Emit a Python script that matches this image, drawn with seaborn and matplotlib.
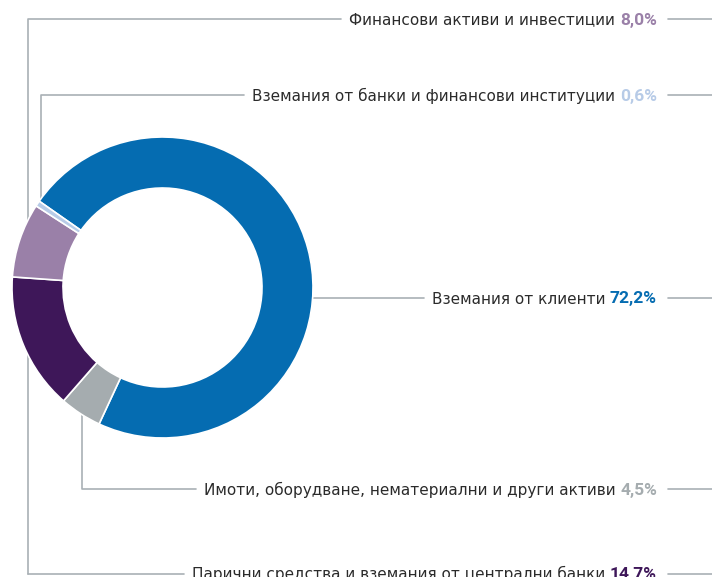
import matplotlib as mpl
mpl.use('agg')
import matplotlib.pyplot as plt
import seaborn as sns

# segments in clockwise order, starting with the big one
labels = ['Вземания от клиенти',
          'Имоти, оборудване, нематериални и други активи',
          'Парични средства и вземания от централни банки',
          'Финансови активи и инвестиции',
          'Вземания от банки и финансови институции']
values = [72.2, 4.5, 14.7, 8.0, 0.6]
colors = ['#056cb1', '#a5acaf', '#3e1759', '#9a80a8', '#b7cbe7']

sns.set_theme(style='white')
plt.rcParams['font.family'] = ['Roboto', 'DejaVu Sans']

W, H = 712, 577
fig = plt.figure(figsize=(W / 100, H / 100), dpi=100)
ax = fig.add_axes([0, 0, 1, 1])

def py(y):
    # pixel row (from the top) -> data y
    return H - y

cx, cy, r = 162.5, 287.5, 150.5
ax.pie(values, colors=colors, startangle=145, counterclock=False,
       radius=r, center=(cx, py(cy)),
       wedgeprops=dict(width=51, edgecolor='white', linewidth=1.2))
ax.set_xlim(0, W)
ax.set_ylim(0, H)
ax.set_aspect('auto')
ax.axis('off')

lc = '#a9b0b5'
lw = 1.2
txt_c = '#2b2b2b'
pct_x = 657

# label row (pixel y), index into the data
rows = [(19, 3), (95, 4), (298, 0), (489, 1), (574, 2)]

texts = []
for y, i in rows:
    p = ax.text(pct_x, py(y) - 5.5, f'{values[i]:.1f}%'.replace('.', ','),
                ha='right', va='baseline', fontsize=12.5, fontweight='bold',
                color=colors[i], family=['Roboto', 'DejaVu Sans'])
    texts.append((y, i, p))

fig.canvas.draw()
rend = fig.canvas.get_renderer()
starts = {}
for y, i, p in texts:
    bb = p.get_window_extent(rend)
    t = ax.text(bb.x0 - 5, py(y) - 5.5, labels[i], ha='right', va='baseline',
                fontsize=11, color=txt_c, family=['DejaVu Sans'])
    tb = t.get_window_extent(rend)
    starts[i] = tb.x0
    # short line on the right side
    ax.plot([bb.x1 + 11, W], [py(y), py(y)], color=lc, lw=lw, zorder=0)

# leader lines
ax.plot([28, 28, starts[3] - 8], [py(574), py(19), py(19)], color=lc, lw=lw, zorder=0)
ax.plot([28, starts[2] - 8], [py(574), py(574)], color=lc, lw=lw, zorder=0)
ax.plot([41, 41, starts[4] - 8], [py(210), py(95), py(95)], color=lc, lw=lw, zorder=0)
ax.plot([300, starts[0] - 8], [py(298), py(298)], color=lc, lw=lw, zorder=0)
ax.plot([82, 82, starts[1] - 8], [py(405), py(489), py(489)], color=lc, lw=lw, zorder=0)

fig.savefig('out.png', dpi=100)
